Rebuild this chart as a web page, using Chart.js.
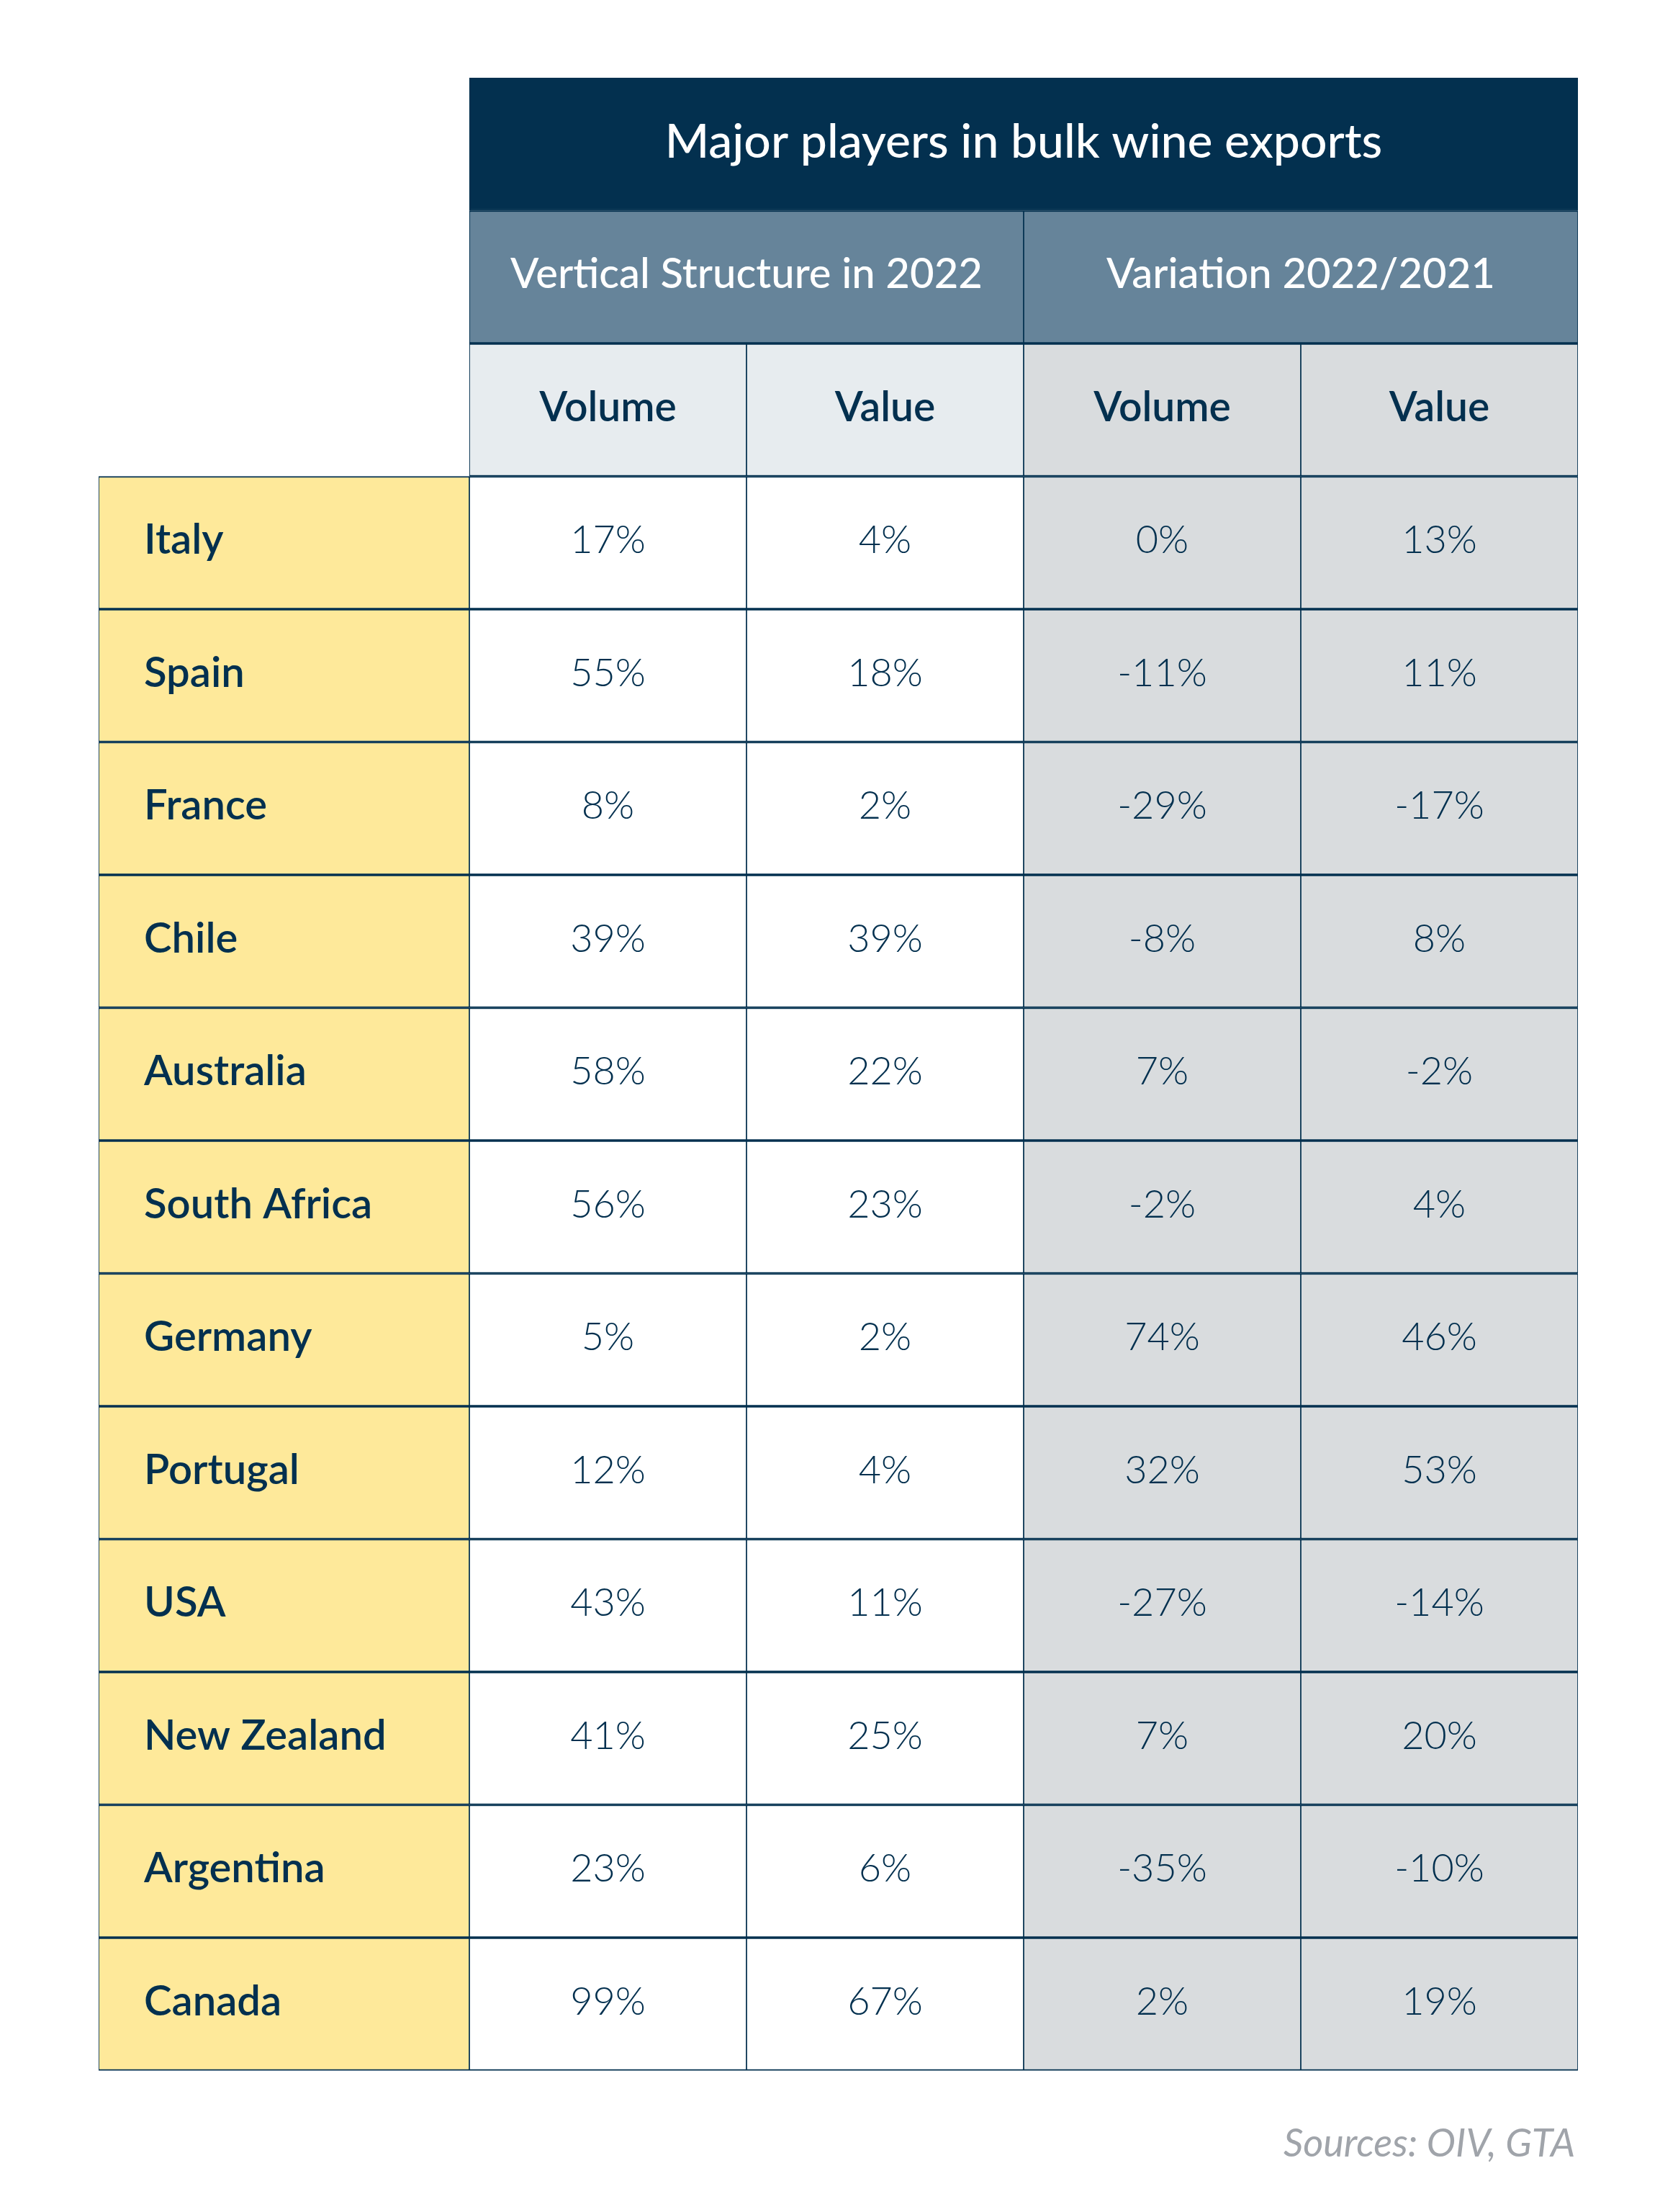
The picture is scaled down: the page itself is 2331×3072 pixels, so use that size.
<!DOCTYPE html>
<html>
<head>
<meta charset="utf-8">
<script src="https://cdn.jsdelivr.net/npm/chart.js@4.4.0/dist/chart.umd.min.js"></script>
<style>
  html, body { margin: 0; padding: 0; background: #ffffff; }
  #wrap { width: 2331px; height: 3072px; }
</style>
</head>
<body>
<div id="wrap"><canvas id="tableChart" width="2331" height="3072"></canvas></div>
<script>
// data
var tableTitle = 'Major players in bulk wine exports';
var groupLabels = ['Vertical Structure in 2022', 'Variation 2022/2021'];
var measureLabels = ['Volume', 'Value', 'Volume', 'Value'];
var countries = ['Italy', 'Spain', 'France', 'Chile', 'Australia', 'South Africa',
  'Germany', 'Portugal', 'USA', 'New Zealand', 'Argentina', 'Canada'];
var structVolume = [17, 55, 8, 39, 58, 56, 5, 12, 43, 41, 23, 99];
var structValue = [4, 18, 2, 39, 22, 23, 2, 4, 11, 25, 6, 67];
var varVolume = [0, -11, -29, -8, 7, -2, 74, 32, -27, 7, -35, 2];
var varValue = [13, 11, -17, 8, -2, 4, 46, 53, -14, 20, -10, 19];
var sourceNote = 'Sources: OIV, GTA';

// layout + colours
var colWidths = [515, 385, 385, 385, 385];
var navy = '#03304f';
var slate = '#66849a';
var paleBlue = '#e7ecef';
var paleGrey = '#d9dcde';
var yellow = '#fee99a';
var fontFam = 'Lato, "Open Sans", sans-serif';

var colEdges = [0];
colWidths.forEach(function(w, i) { colEdges.push(colEdges[i] + w); });
var rowKeys = ['title', 'group', 'measure'].concat(countries).concat(['source']);

function span(a, b) { return [colEdges[a], colEdges[b]]; }
function pct(v) { return v + '%'; }

// every cell of the table is one floating bar
var cells = [];
cells.push({ y: 'title', x: span(1, 5), bg: navy, text: tableTitle, font: '500 66px ' + fontFam, color: '#ffffff' });
groupLabels.forEach(function(g, i) {
  cells.push({ y: 'group', x: span(1 + i * 2, 3 + i * 2), bg: slate, text: g, font: '500 58px ' + fontFam, color: '#ffffff' });
});
measureLabels.forEach(function(m, i) {
  cells.push({ y: 'measure', x: span(i + 1, i + 2), bg: i < 2 ? paleBlue : paleGrey, text: m, font: '600 57px ' + fontFam, color: navy });
});
countries.forEach(function(c, r) {
  cells.push({ y: c, x: span(0, 1), bg: yellow, text: c, font: '600 58px ' + fontFam, color: navy, left: true });
  [structVolume, structValue, varVolume, varValue].forEach(function(series, k) {
    cells.push({ y: c, x: span(k + 1, k + 2), bg: k < 2 ? '#ffffff' : paleGrey, text: pct(series[r]), font: '300 54px ' + fontFam, color: navy });
  });
});

var cellText = {
  id: 'cellText',
  afterDatasetsDraw: function(chart) {
    var ctx = chart.ctx;
    var meta = chart.getDatasetMeta(0);
    ctx.save();
    ctx.textBaseline = 'middle';
    meta.data.forEach(function(bar, i) {
      var c = cells[i];
      var p = bar.getProps(['x', 'y', 'base'], true);
      var l = Math.min(p.x, p.base), r = Math.max(p.x, p.base);
      ctx.font = c.font;
      ctx.fillStyle = c.color;
      if (c.left) {
        ctx.textAlign = 'left';
        ctx.fillText(c.text, l + 63, p.y - 3);
      } else {
        ctx.textAlign = 'center';
        ctx.fillText(c.text, (l + r) / 2, p.y - 3);
      }
    });
    // source note sits in the last (empty) row
    var ys = chart.scales.y;
    ctx.font = 'italic 400 54px ' + fontFam;
    ctx.fillStyle = '#a0a4aa';
    ctx.textAlign = 'right';
    ctx.fillText(sourceNote, chart.chartArea.right - 4, ys.getPixelForValue(rowKeys.length - 1) + 10);
    ctx.restore();
  }
};

var ctx = document.getElementById('tableChart').getContext('2d');
new Chart(ctx, {
  type: 'bar',
  data: {
    labels: rowKeys,
    datasets: [{
      data: cells,
      backgroundColor: cells.map(function(c) { return c.bg; }),
      borderColor: navy,
      borderWidth: { top: 2, bottom: 2, left: 1.2, right: 1.2 },
      borderSkipped: false,
      barPercentage: 1,
      categoryPercentage: 1
    }]
  },
  options: {
    indexAxis: 'y',
    responsive: false,
    animation: false,
    events: [],
    layout: { padding: { left: 137, right: 139, top: 108, bottom: 12 } },
    scales: {
      x: { type: 'linear', min: 0, max: colEdges[colEdges.length - 1], display: false },
      y: { type: 'category', labels: rowKeys, display: false }
    },
    plugins: { legend: { display: false }, tooltip: { enabled: false } }
  },
  plugins: [cellText]
});
</script>
</body>
</html>
